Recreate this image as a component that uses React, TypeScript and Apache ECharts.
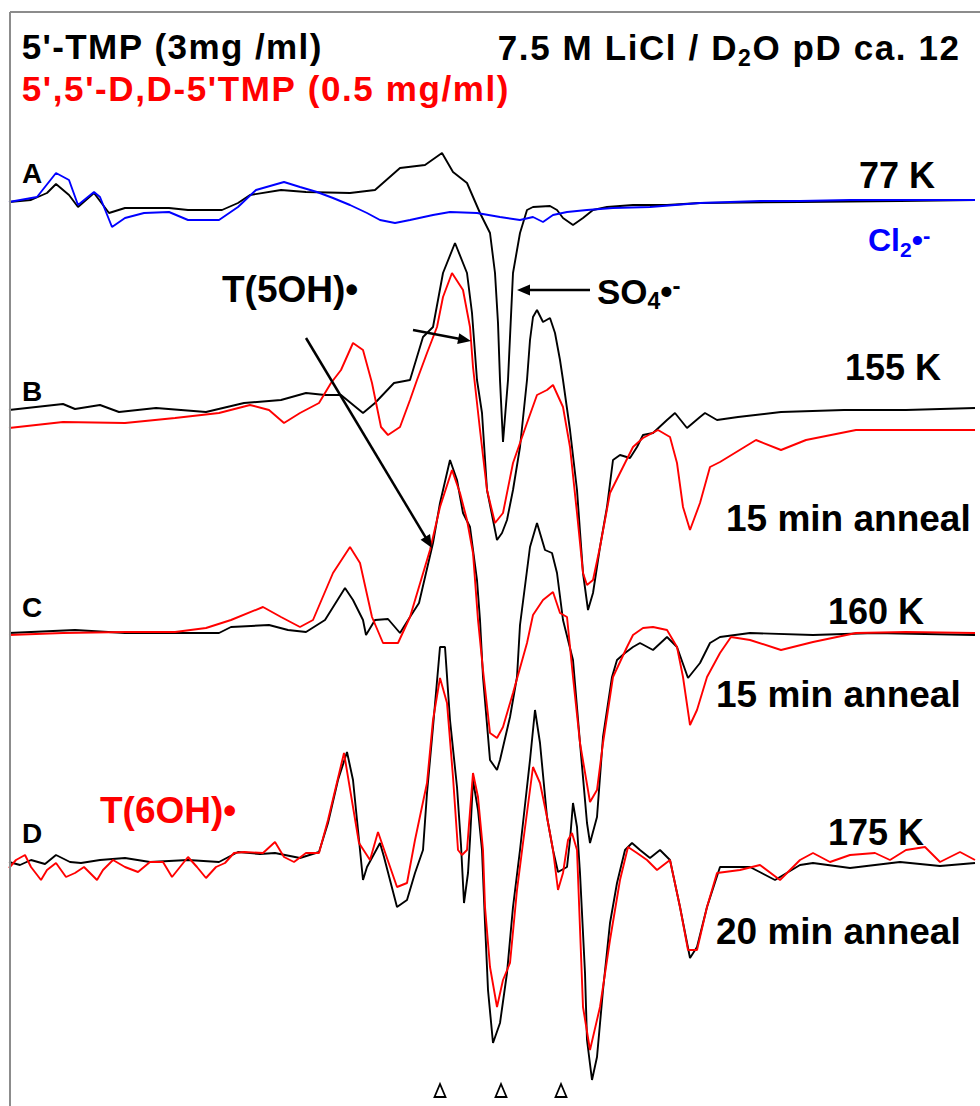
import React, { useEffect, useRef } from "react";
import * as echarts from "echarts";

const FONT = '"Liberation Sans", Arial, Helvetica, sans-serif';

// ---- ESR spectra: [field position, signal amplitude] ----
// A: 77 K
const A_TMP_77K: [number, number][] = [
  [9,-1],[31,1],[47,8],[56,17],[69,6],[78,-6],[94,8],[109,-12],[125,-7],[169,-7],
  [188,-9],[222,-9],[238,-2],[250,6],[281,11],[306,9],[350,8],[375,11],[400,33],[425,36],
  [442,48],[453,29],[467,18],[480,-12],[490,-32],[495,-72],[498,-122],[500,-179],[503,-241],[508,-179],
  [513,-72],[520,-32],[527,-9],[533,-6],[550,-5],[557,-9],[563,-17],[573,-24],[583,-17],[593,-9],
  [607,-6],[633,-4],[667,-4],[700,-2],[800,-1],[900,0],[975,1],
];
const A_Cl2_77K: [number, number][] = [
  [9,-1],[37,4],[56,28],[69,21],[78,-4],[94,9],[100,4],[112,-26],[125,-17],[144,-12],
  [169,-11],[188,-19],[219,-19],[238,-6],[256,11],[284,19],[300,14],[317,9],[333,3],[350,-4],
  [367,-12],[380,-19],[395,-22],[410,-19],[433,-14],[450,-11],[477,-12],[500,-16],[520,-19],[533,-16],
  [543,-21],[553,-14],[567,-11],[587,-9],[613,-7],[650,-6],[700,-2],[760,0],[800,0],[850,1],[900,1],[975,1],
];
// B: 155 K, 15 min anneal
const B_TMP_155K: [number, number][] = [
  [9,-2],[63,4],[75,-1],[100,3],[119,-4],[156,0],[206,-4],[244,5],[281,8],[306,15],
  [325,13],[341,13],[363,-5],[375,5],[394,25],[410,28],[423,71],[433,81],[443,135],[455,165],
  [467,135],[472,95],[475,55],[477,28],[482,-5],[487,-82],[497,-132],[502,-125],[507,-112],[513,-82],
  [520,-39],[527,28],[530,68],[533,91],[537,98],[543,86],[550,90],[555,75],[560,48],[563,28],
  [570,-22],[577,-82],[583,-165],[588,-202],[593,-185],[600,-139],[607,-99],[613,-52],[620,-47],[630,-50],
  [637,-39],[643,-27],[653,-25],[667,-12],[675,-5],[687,-20],[700,-9],[705,-5],[717,-12],[738,-9],
  [781,-4],[844,-2],[906,-2],[975,0],
];
const B_DD_155K: [number, number][] = [
  [9,0],[63,6],[125,5],[175,10],[219,15],[250,23],[269,18],[284,5],[300,15],[319,25],
  [331,45],[341,58],[353,85],[363,78],[372,45],[381,1],[388,-7],[400,1],[410,28],[417,48],
  [427,75],[437,101],[443,131],[452,155],[463,138],[470,101],[473,61],[480,-2],[487,-62],[495,-95],
  [503,-85],[513,-35],[527,5],[537,33],[547,38],[553,43],[563,21],[570,-19],[577,-85],[583,-145],
  [587,-157],[593,-152],[600,-119],[610,-65],[620,-45],[633,-19],[643,-10],[658,-2],[670,-9],[677,-35],
  [683,-79],[690,-102],[700,-75],[710,-39],[720,-34],[756,-12],[781,-22],[806,-12],[856,-2],[906,-2],[975,-2],
];
// C: 160 K, 15 min anneal
const C_TMP_160K: [number, number][] = [
  [9,0],[75,3],[125,0],[188,0],[219,0],[231,6],[269,8],[288,3],[306,1],[325,13],
  [345,45],[353,33],[363,13],[366,-2],[375,13],[388,14],[400,0],[410,16],[419,30],[433,90],
  [440,130],[450,173],[457,153],[463,120],[470,106],[477,53],[480,13],[483,-44],[490,-127],[497,-137],
  [500,-127],[510,-84],[517,-44],[520,8],[530,86],[537,110],[545,83],[552,80],[557,60],[563,13],
  [573,-27],[580,-110],[587,-190],[590,-210],[597,-184],[603,-104],[612,-44],[617,-27],[625,-20],[633,-14],
  [640,-10],[653,-17],[667,-4],[677,-14],[688,-45],[700,-30],[710,-10],[720,-4],[750,0],[813,-2],[875,0],[975,-2],
];
const C_DD_160K: [number, number][] = [
  [9,-2],[63,0],[125,1],[175,1],[206,5],[231,13],[263,26],[281,16],[300,6],[313,13],
  [333,60],[350,86],[360,70],[372,16],[383,-10],[398,-10],[410,16],[430,83],[440,126],[452,163],
  [460,140],[467,113],[473,80],[478,13],[483,-37],[490,-100],[497,-105],[503,-94],[513,-60],[527,-10],
  [533,18],[543,33],[553,41],[560,20],[567,16],[573,-44],[580,-110],[590,-169],[597,-157],[603,-110],
  [613,-44],[627,-14],[633,-2],[643,5],[653,6],[667,3],[677,-14],[683,-44],[690,-92],[697,-77],
  [707,-44],[720,-20],[731,-4],[750,-7],[781,-17],[813,-9],[856,0],[906,1],[975,0],
];
// D: 175 K, 20 min anneal
const D_TMP_175K: [number, number][] = [
  [9,0],[20,-3],[31,2],[45,-2],[56,7],[70,0],[81,-1],[100,2],[125,4],[150,0],
  [188,2],[219,0],[238,10],[260,8],[275,9],[300,4],[319,10],[328,39],[338,82],[347,110],
  [353,82],[359,22],[363,-18],[367,-5],[380,19],[384,5],[397,-45],[407,-38],[415,-11],[423,12],
  [427,69],[433,135],[440,215],[445,215],[450,142],[457,75],[461,17],[464,-41],[468,-11],[470,22],
  [473,82],[478,52],[482,12],[485,-61],[488,-128],[493,-181],[500,-161],[507,-111],[513,-45],[520,12],
  [530,102],[535,152],[540,119],[547,45],[553,12],[558,-10],[567,-5],[570,22],[573,59],[577,35],
  [580,-11],[585,-111],[587,-178],[592,-218],[597,-195],[603,-128],[610,-61],[617,-21],[625,12],[632,19],
  [640,12],[650,4],[660,12],[670,2],[680,-45],[690,-96],[697,-85],[707,-45],[720,-5],[750,-5],
  [775,-18],[800,-3],[813,-1],[850,-6],[875,-3],[900,0],[940,-4],[975,-1],
];
const D_DD_175K: [number, number][] = [
  [9,-6],[16,2],[25,7],[31,-5],[41,-18],[47,-8],[56,-1],[66,-15],[75,-11],[84,-5],
  [97,-18],[103,-8],[113,2],[125,-5],[138,-10],[150,0],[163,0],[172,-15],[188,5],[197,-5],
  [206,-16],[216,-5],[225,-1],[234,9],[244,10],[263,9],[275,20],[284,5],[294,0],[306,9],
  [319,9],[328,42],[344,109],[359,19],[370,2],[378,30],[397,-25],[407,-21],[415,22],[427,79],
  [433,142],[440,184],[447,159],[453,85],[458,12],[462,7],[467,12],[473,89],[478,65],[483,12],
  [485,-45],[490,-105],[497,-145],[503,-118],[510,-101],[517,-28],[523,19],[533,95],[540,79],[547,45],
  [553,12],[558,-28],[563,-11],[568,22],[572,29],[577,12],[583,-145],[590,-188],[600,-145],[610,-78],
  [620,-18],[628,15],[637,9],[647,2],[657,-8],[670,2],[680,-45],[688,-88],[697,-88],[707,-45],
  [717,-11],[740,-8],[760,-3],[780,-18],[800,2],[813,9],[830,0],[850,7],[875,9],[890,2],
  [906,12],[925,15],[940,0],[960,10],[975,2],
];

// vertical stacking offsets of the traces
const OFF_A = 905;
const OFF_B_TMP = 698;
const OFF_B_DD = 678;
const OFF_C = 473;
const OFF_D = 244;

// positions of the three line markers (open triangles) under the spectra
const TRIANGLE_MARKS = [440, 501, 561];

function stack(data: [number, number][], off: number) {
  return data.map(([x, a]) => [x, a + off]);
}

function line(name: string, data: [number, number][], off: number, color: string, z: number) {
  return {
    name,
    type: "line",
    data: stack(data, off),
    showSymbol: false,
    symbol: "none",
    silent: true,
    z,
    lineStyle: { color, width: 1.9 },
    itemStyle: { color },
  };
}

function label(x: number, y: number, text: string, size: number, color: string, scaleX = 1, rich?: any, weight = "bold") {
  return {
    type: "text",
    x,
    y,
    scaleX,
    z: 100,
    style: {
      text,
      fill: color,
      font: `${weight} ${size}px ${FONT}`,
      align: "left",
      verticalAlign: "middle",
      textAlign: "left",
      textVerticalAlign: "middle",
      rich,
    },
  };
}

// letter-spaced heading: every character as its own rich token with side padding
function spacedLabel(x: number, y: number, text: string, size: number, color: string, gap: number, subIndex = -1) {
  const chars = Array.from(text);
  const str = chars.map((c, i) => `{${i === subIndex ? "s" : "c"}|${c}}`).join("");
  return label(x, y, str, size, color, 1, {
    c: { font: `bold ${size}px ${FONT}`, fill: color, padding: [0, gap / 2, 0, gap / 2] },
    s: { font: `bold ${Math.round(size * 0.66)}px ${FONT}`, fill: color, verticalAlign: "bottom", padding: [0, gap / 2, -5, gap / 2] },
  });
}

function arrow(x1: number, y1: number, x2: number, y2: number) {
  const dx = x2 - x1, dy = y2 - y1;
  const L = Math.hypot(dx, dy);
  const ux = dx / L, uy = dy / L;
  const h = 13, w = 5.5;
  const bx = x2 - ux * h, by = y2 - uy * h;
  return [
    { type: "line", z: 100, shape: { x1, y1, x2: bx + ux * 2, y2: by + uy * 2 }, style: { stroke: "#000", lineWidth: 2.5 } },
    { type: "polygon", z: 100, shape: { points: [[x2, y2], [bx - uy * w, by + ux * w], [bx + uy * w, by - ux * w]] }, style: { fill: "#000" } },
  ];
}

export default function App() {
  const ref = useRef<HTMLDivElement>(null);
  useEffect(() => {
    if (!ref.current) return;
    const chart = echarts.init(ref.current, undefined, { renderer: "svg" });
    const sub = (size: number, color: string) => ({
      font: `bold ${size}px ${FONT}`, fill: color, verticalAlign: "bottom", padding: [0, 0, -4, 0],
    });
    const sup = (size: number, color: string) => ({
      font: `bold ${size}px ${FONT}`, fill: color, verticalAlign: "top",
    });
    const heading = "7.5 M LiCl / D2O pD ca. 12";
    chart.setOption({
      animation: false,
      backgroundColor: "#fff",
      grid: { left: 0, right: 0, top: 0, bottom: 0, containLabel: false },
      xAxis: { type: "value", min: 0, max: 980, show: false },
      yAxis: { type: "value", min: 0, max: 1106, show: false },
      series: [
        line("A 5'-TMP 77 K", A_TMP_77K, OFF_A, "#000000", 2),
        line("A Cl2 77 K", A_Cl2_77K, OFF_A, "#0000ff", 3),
        line("B 5'-TMP 155 K", B_TMP_155K, OFF_B_TMP, "#000000", 2),
        line("B D,D 155 K", B_DD_155K, OFF_B_DD, "#ff0000", 3),
        line("C 5'-TMP 160 K", C_TMP_160K, OFF_C, "#000000", 2),
        line("C D,D 160 K", C_DD_160K, OFF_C, "#ff0000", 3),
        line("D 5'-TMP 175 K", D_TMP_175K, OFF_D, "#000000", 2),
        line("D D,D 175 K", D_DD_175K, OFF_D, "#ff0000", 3),
      ],
      graphic: [
        { type: "line", z: 90, shape: { x1: 10, y1: 12, x2: 980, y2: 12 }, style: { stroke: "#8c8c8c", lineWidth: 2 } },
        { type: "line", z: 90, shape: { x1: 10, y1: 12, x2: 10, y2: 1106 }, style: { stroke: "#8c8c8c", lineWidth: 2 } },
        spacedLabel(21, 46, "5'-TMP (3mg /ml)", 35, "#000", 1.4),
        spacedLabel(21, 88, "5',5'-D,D-5'TMP (0.5 mg/ml)", 35, "#ff0000", 1.6),
        spacedLabel(497, 47, heading, 35, "#000", 1.6, heading.indexOf("2O")),
        label(22, 173, "A", 28, "#000"),
        label(859, 175, "77 K", 36, "#000"),
        label(868, 240, "{m|Cl}{s|2}{m|•}{p|-}", 32, "#0000ff", 1, {
          m: { font: `bold 32px ${FONT}`, fill: "#0000ff" },
          s: sub(21, "#0000ff"),
          p: sup(22, "#0000ff"),
        }),
        label(222, 289, "T(5OH)•", 37, "#000"),
        label(597, 291, "{m|SO}{s|4}{m|•}{p|-}", 35, "#000", 1, {
          m: { font: `bold 35px ${FONT}`, fill: "#000" },
          s: sub(23, "#000"),
          p: sup(24, "#000"),
        }),
        label(22, 391, "B", 28, "#000"),
        label(845, 367, "155 K", 36, "#000"),
        label(726, 518, "15 min anneal", 37, "#000"),
        label(22, 607, "C", 28, "#000"),
        label(828, 611, "160 K", 36, "#000"),
        label(716, 694, "15 min anneal", 37, "#000"),
        label(100, 810, "T(6OH)•", 37, "#ff0000"),
        label(22, 833, "D", 28, "#000"),
        label(828, 832, "175 K", 36, "#000"),
        label(716, 931, "20 min anneal", 37, "#000"),
        ...TRIANGLE_MARKS.map((x) => ({
          type: "polygon", z: 100,
          shape: { points: [[x, 1084], [x - 5.5, 1097], [x + 5.5, 1097]] },
          style: { fill: "none", stroke: "#000", lineWidth: 1.8, lineJoin: "miter" },
        })),
        ...arrow(590, 290, 517, 290),
        ...arrow(413, 330, 471, 341),
        ...arrow(306, 338, 432, 548),
      ],
    });
    return () => chart.dispose();
  }, []);
  return (
    <div
      ref={ref}
      style={{ position: "absolute", left: 0, top: 0, width: 980, height: 1106, background: "#fff" }}
    />
  );
}
